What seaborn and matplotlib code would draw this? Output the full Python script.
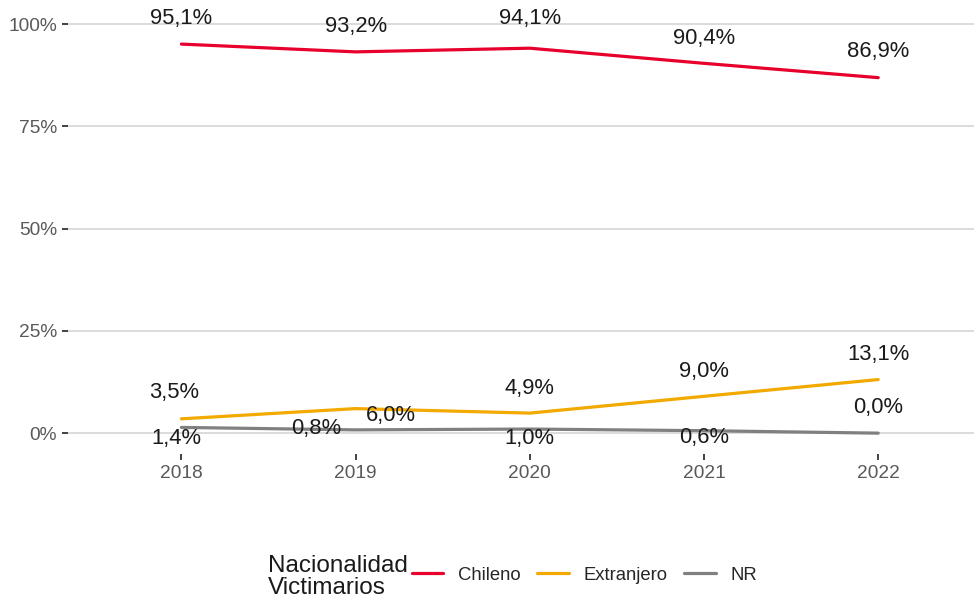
import pandas as pd
import matplotlib.pyplot as plt
import seaborn as sns
from matplotlib.lines import Line2D

sns.set_theme(style="white")
plt.rcParams['font.family'] = ['Liberation Sans', 'DejaVu Sans']

# Datos
years = [2018, 2019, 2020, 2021, 2022]
chileno = [95.1, 93.2, 94.1, 90.4, 86.9]
extranjero = [3.5, 6.0, 4.9, 9.0, 13.1]
nr = [1.4, 0.8, 1.0, 0.6, 0.0]
groups = ["Chileno", "Extranjero", "NR"]
colors = ["#E8002D", "#F2A900", "#808080"]
y_ticks = [0, 25, 50, 75, 100]

# desplazamiento de etiquetas (px) estilo ggrepel
label_offsets = {
    "Chileno": [(0, 26), (0, 25), (0, 30), (0, 25), (0, 26)],
    "Extranjero": [(-7, 26), (35, -7), (0, 25), (0, 25), (0, 25)],
    "NR": [(-5, -11), (-39, 1), (0, -9), (0, -7), (0, 26)],
}

df = pd.DataFrame({
    "Año": years * 3,
    "Porcentaje": chileno + extranjero + nr,
    "Nacionalidad": [g for g in groups for _ in years],
})

fig = plt.figure(figsize=(9.74, 6.0), dpi=100)
ax = fig.add_axes([0.07, 0.244, 0.93, 0.75])

sns.lineplot(data=df, x="Año", y="Porcentaje", hue="Nacionalidad",
             palette=dict(zip(groups, colors)), linewidth=2.3, ax=ax, legend=False)

for g in groups:
    sub = df[df["Nacionalidad"] == g]
    for (x, y), (dx, dy) in zip(zip(sub["Año"], sub["Porcentaje"]), label_offsets[g]):
        ax.annotate(f"{y:.1f}%".replace(".", ","), (x, y), xytext=(dx, dy),
                    textcoords="offset pixels", ha="center", va="center",
                    fontsize=15.8, color="#1a1a1a")

ax.set_xlim(2017.35, 2022.55)
ax.set_ylim(-5, 105)
ax.set_yticks(y_ticks)
ax.set_yticklabels([f"{t}%" for t in y_ticks])
ax.set_xticks(years)
ax.set_xlabel("")
ax.set_ylabel("")
ax.yaxis.grid(True, color="#d9d9d9", linewidth=1.3)
ax.xaxis.grid(False)
for s in ax.spines.values():
    s.set_visible(False)
ax.tick_params(axis="both", bottom=True, left=True, colors="#333333",
               labelcolor="#595959", labelsize=13.8, length=4, width=1.3,
               direction="out", pad=4)

# leyenda inferior
fig.text(268 / 974, 1 - 577 / 600, "Nacionalidad\nVictimarios", fontsize=17.5,
         color="#1a1a1a", ha="left", va="center", linespacing=1.05)
handles = [Line2D([0], [0], color=c, lw=2.3) for c in colors]
fig.legend(handles, groups, ncol=3, frameon=False, fontsize=13.3,
           loc="center left", bbox_to_anchor=(412 / 974, 1 - 575 / 600),
           borderpad=0, borderaxespad=0,
           handlelength=1.7, columnspacing=0.9, handletextpad=0.8)

fig.savefig("out.png", dpi=100)
